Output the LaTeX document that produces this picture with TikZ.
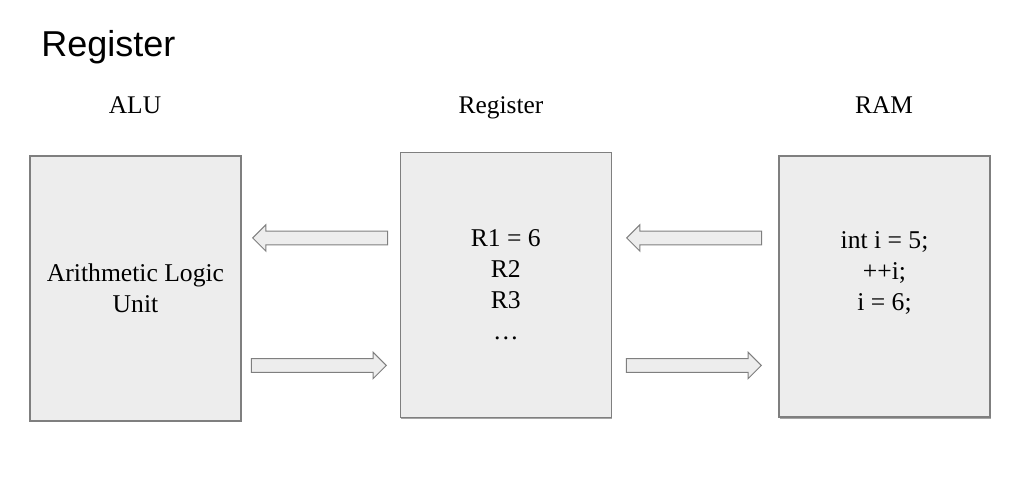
\documentclass[tikz,border=0pt]{standalone}
\usepackage{fontspec}
\setmainfont{Liberation Serif}
\newfontfamily\titlefont{Liberation Sans}
\usepackage{xcolor}
\usepackage{tikz}
\usetikzlibrary{shapes.arrows}
\definecolor{boxFill}{HTML}{EDEDED}
\definecolor{boxLine}{HTML}{7F7F7F}
\definecolor{shadowLine}{HTML}{A6A6A6}
\tikzset{
  unitBox/.style={draw=boxLine, fill=boxFill, line width=0.6pt,
    minimum width=105.5bp, minimum height=132.5bp, inner sep=0pt,
    align=center, font=\fontsize{12.8bp}{15.5bp}\selectfont},
  unitLabel/.style={anchor=base, font=\fontsize{12.7bp}{14bp}\selectfont},
  flowArrow/.style={single arrow, draw=boxLine, fill=boxFill, line width=0.5pt,
    inner sep=0pt, inner ysep=3.15bp, single arrow head extend=3.15bp,
    single arrow tip angle=90, minimum height=67.5bp, anchor=tip},
  titleText/.style={anchor=base west, inner sep=0pt,
    font=\titlefont\fontsize{18bp}{20bp}\selectfont}
}
\begin{document}
\begin{tikzpicture}[x=0.5bp, y=-0.5bp]
  \useasboundingbox (0,0) rectangle (1014,483);

  \node[titleText] (title) at (41,57) {Register};

  % the three units
  \draw[shadowLine, line width=1pt] (401,418.5) -- (612,418.5);
  \draw[shadowLine, line width=1pt] (780,418.5) -- (991,418.5);
  \node[unitBox] (alu) at (135.5,288.5) {Arithmetic Logic\\Unit};
  \node[unitBox] (reg) at (505.8,284.8) {R1 = 6\\R2\\R3\\\dots};
  \node[unitBox, minimum height=130.5bp] (ram) at (884.5,286.5) {};
  \node[unitBox, draw=none, fill=none, minimum width=0pt, minimum height=0pt]
    (ramText) at (884.5,273) {int i = 5;\\++i;\\i = 6;};

  \node[unitLabel] (aluLabel) at (135,114) {ALU};
  \node[unitLabel] (regLabel) at (501,114) {Register};
  \node[unitLabel] (ramLabel) at (884,114) {RAM};

  % data flow
  \node[flowArrow, shape border rotate=180] (regToAlu) at (252,238) {};
  \node[flowArrow] (aluToReg) at (387,365.5) {};
  \node[flowArrow, shape border rotate=180] (ramToReg) at (626,238) {};
  \node[flowArrow] (regToRam) at (762,365.5) {};
\end{tikzpicture}
\end{document}
